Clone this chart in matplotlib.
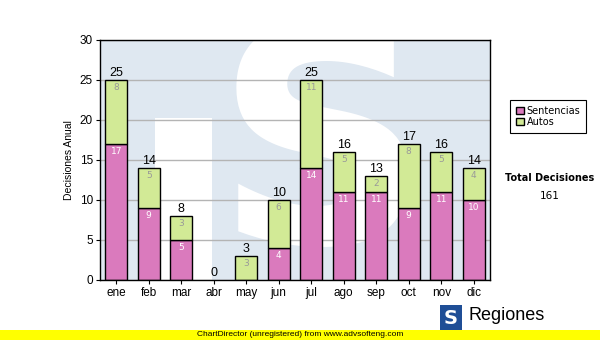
import numpy as np
import matplotlib.pyplot as plt
from matplotlib.patches import Rectangle

meses = ["ene", "feb", "mar", "abr", "may", "jun", "jul", "ago", "sep", "oct", "nov", "dic"]
sentencias = [17, 9, 5, 0, 0, 4, 14, 11, 11, 9, 11, 10]
autos = [8, 5, 3, 0, 3, 6, 11, 5, 2, 8, 5, 4]
total_decisiones = 161

plt.rcParams["font.family"] = ["Liberation Sans", "DejaVu Sans"]

fig = plt.figure(figsize=(6, 3.4), dpi=100)
ax = fig.add_axes([100 / 600, 1 - 280 / 340, 390 / 600, 240 / 340])

# fondo tipo marca de agua
ax.set_facecolor("#dfe8f1")
ax.add_patch(Rectangle((0.141, 0), 0.146, 0.675, transform=ax.transAxes,
                       facecolor="white", edgecolor="none", zorder=0.2))
ax.text(0.57, 0.5, "S", transform=ax.transAxes, ha="center", va="center",
        fontsize=215, fontweight="bold", color="white", family="DejaVu Sans",
        zorder=0.3, clip_on=True)

x = np.arange(len(meses))
w = 0.68
b1 = ax.bar(x, sentencias, w, color="#da7abd", edgecolor="black", linewidth=1, zorder=2)
b2 = ax.bar(x, autos, w, bottom=sentencias, color="#d2ea96", edgecolor="black", linewidth=1, zorder=2)
# ocultar barras de altura cero
for r in list(b1) + list(b2):
    if r.get_height() == 0:
        r.set_visible(False)

for i in range(len(meses)):
    s, a = sentencias[i], autos[i]
    if s > 0:
        ax.annotate(str(s), (x[i], s), xytext=(0, -2.5), textcoords="offset points",
                    ha="center", va="top", fontsize=6.5, color="white",
                    family="DejaVu Sans", zorder=3)
    if a > 0:
        ax.annotate(str(a), (x[i], s + a), xytext=(0, -2.5), textcoords="offset points",
                    ha="center", va="top", fontsize=6.5, color="#999999",
                    family="DejaVu Sans", zorder=3)
    ax.annotate(str(s + a), (x[i], s + a), xytext=(0, 0.5), textcoords="offset points",
                ha="center", va="bottom", fontsize=9, color="black", zorder=3)

ax.set_xlim(-0.5, len(meses) - 0.5)
ax.set_ylim(0, 30)
ax.set_yticks(range(0, 31, 5))
ax.set_xticks(x)
ax.set_xticklabels(meses)
ax.tick_params(labelsize=8.5, length=3, width=0.8, colors="black", pad=2)
ax.set_axisbelow(True)
ax.yaxis.grid(True, color="#b4b4b4", linewidth=1)
for sp in ax.spines.values():
    sp.set_linewidth(1)
    sp.set_zorder(4)
ax.set_ylabel("Decisiones Anual", fontsize=7.5, labelpad=4)

# leyenda
leg = ax.legend([b1, b2], ["Sentencias", "Autos"], loc="upper left",
                bbox_to_anchor=(510 / 600, 1 - 100 / 340), bbox_transform=fig.transFigure,
                prop={"family": "DejaVu Sans", "size": 7}, frameon=True, fancybox=False,
                edgecolor="black", handlelength=0.8, handleheight=0.8, handletextpad=0.3,
                borderpad=0.6, labelspacing=0.1, borderaxespad=0)
leg.get_frame().set_linewidth(0.8)
leg.get_frame().set_alpha(1)

fig.text(550 / 600, 1 - 178 / 340, "Total Decisiones", ha="center", va="center",
         fontsize=7, fontweight="bold", family="DejaVu Sans")
fig.text(550 / 600, 1 - 196 / 340, str(total_decisiones), ha="center", va="center",
         fontsize=7.5, family="DejaVu Sans")

# logo inferior
fig.patches.append(Rectangle((440 / 600, 1 - 331 / 340), 22 / 600, 26 / 340,
                             transform=fig.transFigure, facecolor="#1f4e96", edgecolor="none"))
fig.text(451 / 600, 1 - 318 / 340, "S", ha="center", va="center", fontsize=14,
         fontweight="bold", color="white", family="DejaVu Sans")
fig.text(469 / 600, 1 - 315 / 340, "Regiones", ha="left", va="center", fontsize=13, color="black")

# banda amarilla
fig.patches.append(Rectangle((0, 0), 1, 10 / 340, transform=fig.transFigure,
                             facecolor="yellow", edgecolor="none"))
fig.text(300 / 600, 5 / 340, "ChartDirector (unregistered) from www.advsofteng.com",
         ha="center", va="center", fontsize=6, color="black")

fig.savefig("out.png", dpi=100)
